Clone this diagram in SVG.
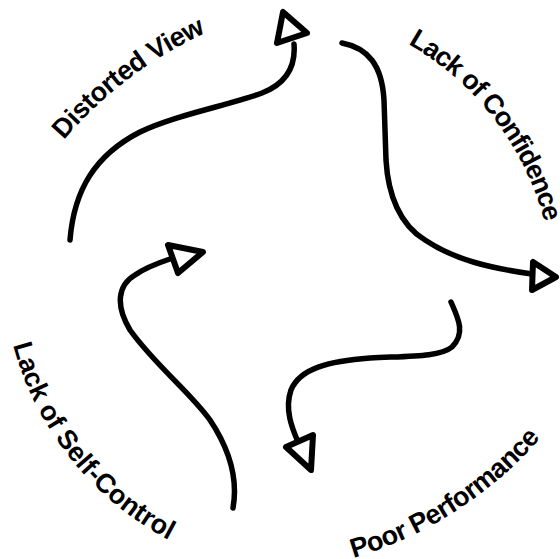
<svg xmlns="http://www.w3.org/2000/svg" width="560" height="559" viewBox="0 0 560 559">
<style>
.lbl{font-family:"Liberation Sans",Arial,Helvetica,sans-serif;font-weight:bold;font-size:27px;letter-spacing:-0.6px;fill:#000}
.wire{fill:none;stroke:#000;stroke-width:5.5;stroke-linecap:round;stroke-linejoin:round}
.head{fill:#fff;stroke:#000;stroke-width:6;stroke-linejoin:round}
</style>
<defs>
<path id="p1" d="M64,140 A408,408 0 0 1 376,-4"/>
<path id="p2" d="M408,44 A290,290 0 0 1 536.5,395.2"/>
<path id="p3" d="M353.5,558 A398,398 0 0 0 614.5,312.5"/>
<path id="p4" d="M13,345 A312,312 0 0 0 315.5,576"/>
</defs>
<rect width="560" height="559" fill="#fff"/>
<g id="connectors">
<path class="wire" d="M70,240 C74,190 95,155 140,132 C175,115 230,105 262,93 C285,84 296,68 294,44"/>
<polygon class="head" points="283,12 277,43 307,33"/>
<path class="wire" d="M342,43 C368,48 382,65 384,100 L386,160 C388,195 400,225 425,240 C455,260 490,268 532,274"/>
<polygon class="head" points="533,262 532,290 556,277"/>
<path class="wire" d="M451,302 C458,318 466,333 452,347 C440,357 410,356 370,358 C330,361 300,368 291,390 C284,410 293,430 298,442"/>
<polygon class="head" points="286,447 313,435 311,470"/>
<path class="wire" d="M233,508 C238,480 230,450 210,420 C190,392 155,365 130,330 C115,305 118,285 135,275 C145,268 155,264 170,259"/>
<polygon class="head" points="168,245 203,252 178,273"/>
</g>
<g id="distorted-view"><text class="lbl"><textPath href="#p1">Distorted View</textPath></text></g>
<g id="lack-of-confidence"><text class="lbl" style="letter-spacing:-1.1px"><textPath href="#p2">Lack of Confidence</textPath></text></g>
<g id="poor-performance"><text class="lbl"><textPath href="#p3">Poor Performance</textPath></text></g>
<g id="lack-of-self-control"><text class="lbl" style="letter-spacing:0px"><textPath href="#p4">Lack of Self-Control</textPath></text></g>
</svg>
